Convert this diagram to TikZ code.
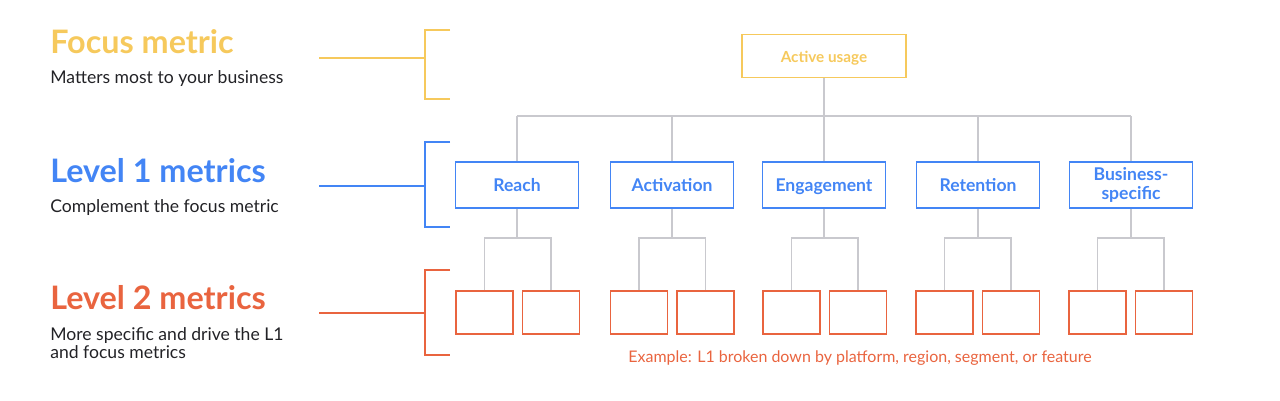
\documentclass[tikz,border=0pt]{standalone}
\usepackage{fontspec}
\setmainfont{Lato}
\usepackage{xcolor}
\definecolor{focusyellow}{HTML}{F6C95C}
\definecolor{levelblue}{HTML}{4385F5}
\definecolor{levelred}{HTML}{E9643F}
\definecolor{treegray}{HTML}{C9C9CE}
\definecolor{textdark}{HTML}{222226}

\begin{document}
\begin{tikzpicture}[x=0.02cm,y=-0.02cm]
			\tikzstyle{heading} = [anchor=base west,inner sep=0pt,font=\fontsize{18.4}{21}\selectfont\bfseries]
			\tikzstyle{note} = [anchor=base west,inner sep=0pt,text=textdark,font=\fontsize{10}{12}\selectfont]
			\tikzstyle{focusbox} = [draw=focusyellow,line width=0.9pt,text=focusyellow,minimum width=3.28cm,minimum height=0.86cm,text height=1.45ex,text depth=0pt,font=\fontsize{8.7}{10}\selectfont\bfseries]
			\tikzstyle{l1box} = [draw=levelblue,line width=0.9pt,text=levelblue,minimum width=2.46cm,minimum height=0.92cm,align=center,font=\fontsize{10}{10.5}\selectfont\bfseries]
			\tikzstyle{l1one} = [l1box,text height=1.45ex,text depth=0pt]
			\tikzstyle{l2box} = [draw=levelred,line width=0.9pt,minimum width=1.14cm,minimum height=0.86cm]
			\tikzstyle{edge} = [-,draw=treegray,line width=0.75pt]
			\tikzstyle{bracket} = [-,line width=0.75pt]
			\useasboundingbox (0,0) rectangle (1280,400);
			% left column
			\node[heading,text=focusyellow] (fhead) at (50,53) {Focus metric};
			\node[note] (fnote) at (50,83) {Matters most to your business};
			\node[heading,text=levelblue] (l1head) at (50,182) {Level 1 metrics};
			\node[note] (l1note) at (50,212) {Complement the focus metric};
			\node[heading,text=levelred] (l2head) at (50,309) {Level 2 metrics};
			\node[note,align=left,anchor=north west] (l2note) at (50,327) {More specific and drive the L1\\[-1.5pt]and focus metrics};
			% brackets
			\draw[bracket,focusyellow] (319,58) -- (425,58);
			\draw[bracket,focusyellow] (450,30) -| (425,99) -- (450,99);
			\draw[bracket,levelblue] (319,186) -- (425,186);
			\draw[bracket,levelblue] (450,142) -| (425,227) -- (450,227);
			\draw[bracket,levelred] (319,313) -- (425,313);
			\draw[bracket,levelred] (450,270) -| (425,355) -- (450,355);
			% tree
			\node[focusbox] (top) at (824,56) {Active usage};
			\node[l1one] (l1a) at (517,185) {Reach};
			\node[l1one] (l1b) at (672,185) {Activation};
			\node[l1one] (l1c) at (824,185) {Engagement};
			\node[l1one] (l1d) at (978,185) {Retention};
			\node[l1box] (l1e) at (1131,185) {Business-\\specific};
			\coordinate (bus) at (0,116);
			\coordinate (fork) at (0,238);
			\draw[edge] (top.south) -- (top.south |- bus);
			\draw[edge] (l1a.north |- bus) -- (l1e.north |- bus);
			\foreach \g/\x in {a/484.5,b/639,c/791.5,d/944.5,e/1097.5} {
				\node[l2box] (l2\g1) at (\x,312.5) {};
				\node[l2box] (l2\g2) at (\x+66.5,312.5) {};
				\draw[edge] (l1\g.north |- bus) -- (l1\g.north);
				\draw[edge] (l1\g.south) -- (l1\g.south |- fork);
				\draw[edge] (l2\g1.north) |- (l2\g2.north |- fork) -- (l2\g2.north);
			}
			\node[text=levelred,font=\fontsize{9.1}{10}\selectfont] (example) at (860,358) {Example: L1 broken down by platform, region, segment, or feature};
\end{tikzpicture}
\end{document}
